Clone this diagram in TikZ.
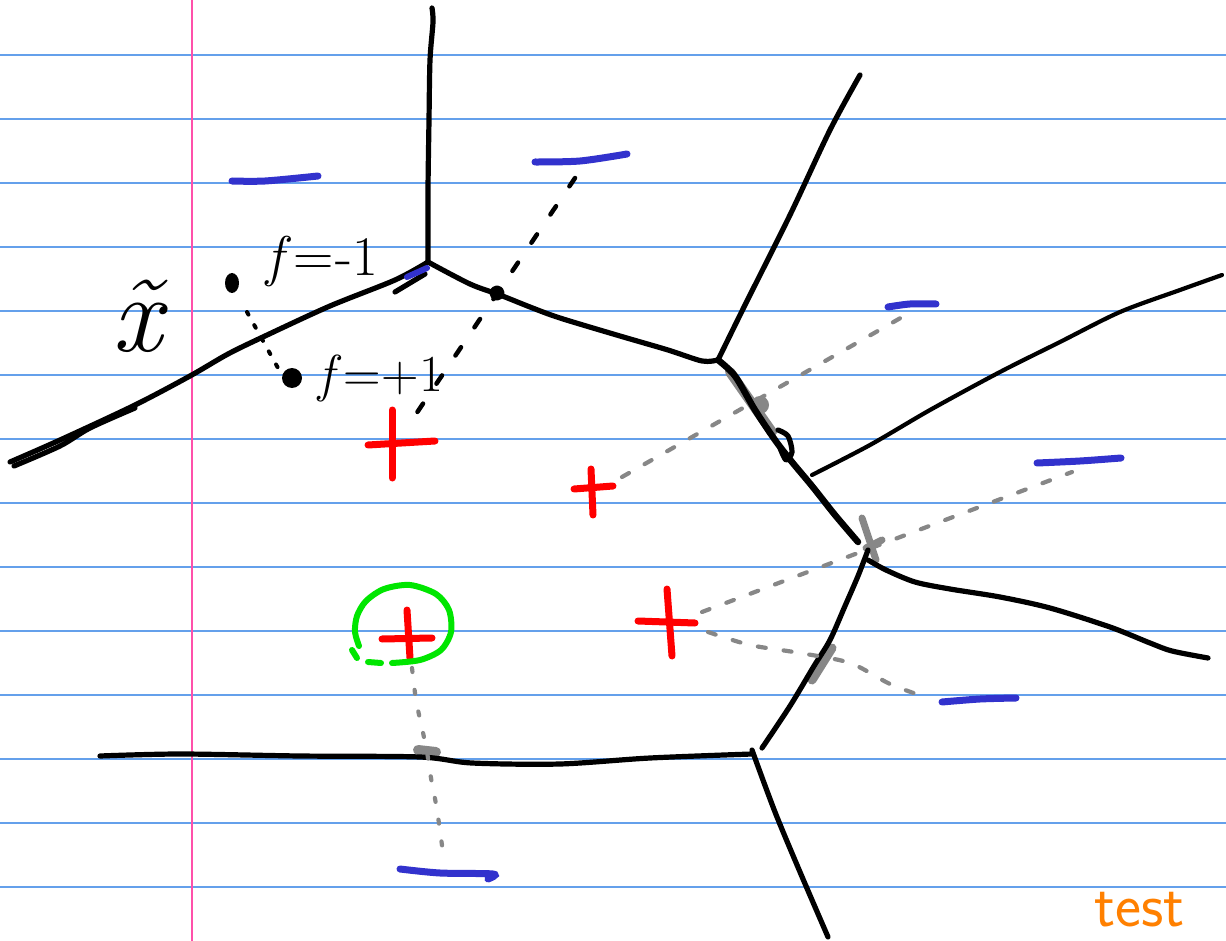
\documentclass[tikz,border=0pt]{standalone}
\usetikzlibrary{calc}
\definecolor{paperline}{RGB}{100,160,235}
\definecolor{margin}{RGB}{255,80,170}
\definecolor{minusblue}{RGB}{50,50,205}
\definecolor{plusred}{RGB}{255,0,0}
\definecolor{circgreen}{RGB}{0,230,0}
\definecolor{guide}{RGB}{135,135,135}
\definecolor{testorange}{RGB}{255,128,0}
\tikzset{
  vor/.style={draw=black, line width=5.2pt, line cap=round, line join=round},
  thinvor/.style={draw=black, line width=4.2pt, line cap=round, line join=round},
  minus/.style={draw=minusblue, line width=7pt, line cap=round},
  plus/.style={draw=plusred, line width=7pt, line cap=round},
  gdash/.style={draw=guide, line width=4.2pt, line cap=round, dash pattern=on 8pt off 18pt},
  bdash/.style={draw=black, line width=4.5pt, line cap=round, dash pattern=on 10pt off 24pt},
  gmark/.style={draw=guide, line width=7pt, line cap=round},
  paper/.style={draw=paperline, line width=1.3pt},
  lbl/.style={inner sep=0pt, anchor=base west}
}
\begin{document}
\begin{tikzpicture}[x=1pt,y=-1pt]
\useasboundingbox (0,0) rectangle (1226,941);
\fill[white] (0,0) rectangle (1226,941);
% ruled paper
\foreach \k in {0,...,13} {\draw[paper] (0,55+64*\k) -- (1226,55+64*\k);}
\draw[draw=margin, line width=1.6pt] (192,0) -- (192,941);

% guide (gray) strokes under the edges
\draw[gmark, line width=10pt] (730,372) -- (772,432);
\fill[guide] (760,405) circle (9);
\draw[gmark] (862,518) -- (876,560);
\draw[gmark] (866,548) -- (882,540);
\draw[gmark, line width=9pt] (832,648) -- (812,680);
\draw[gmark, line width=10pt] (418,750) -- (436,752);

% Voronoi edges
\coordinate (v1) at (428,262);
\coordinate (v2) at (718,360);
\coordinate (v3) at (864,546);
\coordinate (v4) at (752,753);
\draw[vor] plot[smooth] coordinates {(432,8) (433,22) (430,60) (429,120) (428,190) (428,262)};
\draw[vor] plot[smooth] coordinates {(428,262) (395,280) (330,306) (265,336) (228,354) (190,376) (135,405) (60,440) (10,462)};
\draw[vor] plot[smooth] coordinates {(135,408) (90,428) (60,446) (14,466)};
\draw[vor] (395,292) -- (425,274);
\draw[vor] plot[smooth] coordinates {(428,262) (470,284) (500,295) (530,307) (560,318) (620,336) (668,350) (702,361) (718,360)};
\draw[vor] (497,293) circle (5);
\draw[vor] plot[smooth] coordinates {(718,360) (745,305) (790,215) (830,130) (860,75)};
\draw[vor, line width=6.5pt] plot[smooth] coordinates {(718,360) (735,376) (755,410) (775,440) (792,462) (812,486) (835,515) (858,542)};
\draw[vor] plot[smooth] coordinates {(778,430) (788,436) (792,452) (786,460) (780,448)};
\draw[thinvor] plot[smooth] coordinates {(812,475) (870,445) (930,410) (1000,372) (1060,342) (1120,312) (1180,290) (1222,275)};
\draw[vor] plot[smooth] coordinates {(868,550) (858,576) (845,606) (830,640) (814,666) (790,706) (762,748)};
\draw[vor] plot[smooth] coordinates {(868,560) (886,570) (915,582) (950,589) (1000,597) (1050,608) (1110,627) (1150,643) (1172,651) (1208,658)};
\draw[vor] plot[smooth] coordinates {(100,756) (180,754) (300,756) (420,757) (472,763) (560,764) (650,758) (752,754)};
\draw[vor] plot[smooth] coordinates {(752,750) (775,812) (800,872) (828,937)};

% dashed perpendicular guides
\draw[bdash] (575,178) -- (412,420);
\draw[gdash] (622,477) -- (904,316);
\draw[gdash] (702,612) -- (1072,472);
\draw[gdash] plot[smooth] coordinates {(708,632) (750,645) (800,653) (850,663) (890,684) (925,697)};
\draw[gdash, dash pattern=on 4pt off 18pt] plot[smooth] coordinates {(412,668) (416,700) (422,728) (427,752) (431,778) (437,810) (444,860)};
\draw[draw=black, line width=4pt, line cap=round, dash pattern=on 3pt off 12pt] (247,312) -- (278,368);

% minus signs
\draw[minus] plot[smooth] coordinates {(232,181) (265,181) (318,176)};
\draw[minus] plot[smooth] coordinates {(535,162) (580,161) (627,154)};
\draw[minus] plot[smooth] coordinates {(888,307) (910,304) (936,304)};
\draw[minus] plot[smooth] coordinates {(1037,463) (1080,461) (1121,458)};
\draw[minus] plot[smooth] coordinates {(942,702) (980,699) (1016,698)};
\draw[minus] plot[smooth] coordinates {(400,869) (440,873) (493,874) (488,879)};
\draw[minus, line width=6pt] (407,277) -- (427,268);

% plus signs
\draw[plus] (368,445) -- (435,441);
\draw[plus] (392,410) -- (392,478);
\draw[plus] (574,489) -- (613,486);
\draw[plus] (591,469) -- (593,515);
\draw[plus] (638,621) -- (695,623);
\draw[plus] (667,589) -- (672,656);
\draw[plus] (382,639) -- (432,638);
\draw[plus] (407,610) -- (410,658);

% green circle
\draw[draw=circgreen, line width=6pt, line cap=round] plot[smooth] coordinates {(392,663) (420,660) (441,650) (451,632) (449,610) (436,594) (410,585) (384,589) (366,601) (357,616) (355,632) (359,646)};
\draw[draw=circgreen, line width=6pt, line cap=round] (352,650) -- (357,658);
\draw[draw=circgreen, line width=6pt, line cap=round] (368,662) -- (381,663);

% points and labels
\fill[black] (232,283) ellipse (7 and 10);
\fill[black] (292,378) circle (10);
\node[lbl] (xt) at (112,352) {\fontsize{110}{110}\selectfont\textit{\~x}};
\node[lbl] (fm) at (266,276) {\fontsize{56}{56}\selectfont\textit{f}\kern2pt=\kern2pt-1};
\node[lbl] (fp) at (318,391) {\fontsize{52}{52}\selectfont\textit{f}\kern2pt=\kern1pt+1};
\node[lbl, text=testorange] (tst) at (1094,926) {\fontsize{62}{62}\selectfont\sffamily test};
\end{tikzpicture}
\end{document}
